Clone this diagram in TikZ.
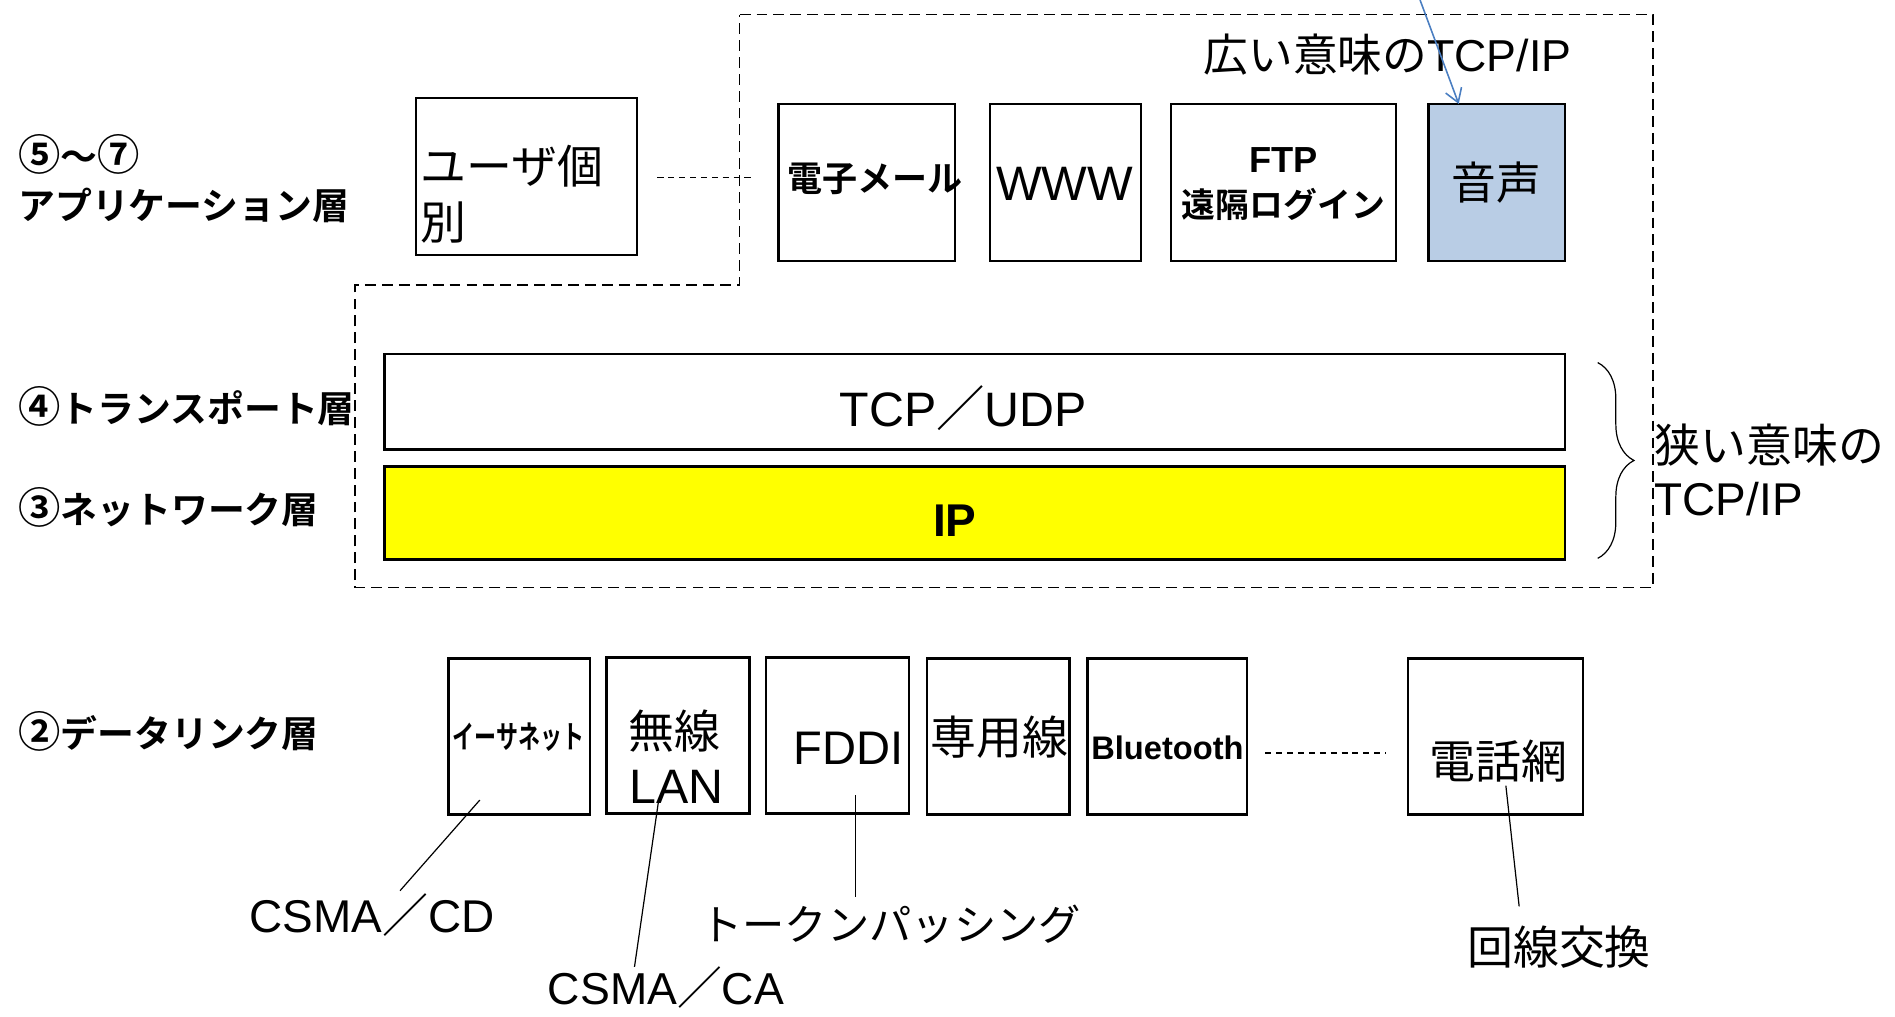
\documentclass[tikz,border=0pt]{standalone}
\usepackage{fontspec}
\usepackage{graphicx}
\setmainfont{Noto Sans CJK JP}[BoldFont={Noto Sans CJK JP Bold}]
\newfontfamily\lat{Liberation Sans}
\usetikzlibrary{arrows.meta,decorations.pathreplacing}
\definecolor{voiceblue}{RGB}{185,205,229}
\definecolor{arrowblue}{RGB}{74,126,193}
\definecolor{ipyellow}{RGB}{255,255,0}
\newcommand{\fs}[1]{\fontsize{#1}{#1}\selectfont}
\newcommand{\cnum}[1]{{\fs{35}#1}}
\begin{document}
\begin{tikzpicture}[x=1pt,y=-1pt,
  box/.style={draw=black, line width=2pt, fill=white, inner sep=0pt},
  txt/.style={inner sep=0pt, anchor=center},
  layer/.style={inner sep=0pt, anchor=west, font=\bfseries\fs{30.5}},
  outline/.style={draw=black, line width=1.4pt, dash pattern=on 9pt off 5pt},
  shortdash/.style={draw=black, line width=1.3pt, dash pattern=on 5pt off 4pt},
  pointer/.style={draw=black, line width=1pt}
]
\useasboundingbox (0,0) rectangle (1568,841);

% layer labels
\node[layer] (l57a) at (15,128) {\cnum{⑤}～\cnum{⑦}};
\node[layer] (l57b) at (15,170) {アプリケーション層};
\node[layer] (l4) at (15,336) {\cnum{④}トランスポート層};
\node[layer] (l3) at (15,420) {\cnum{③}ネットワーク層};
\node[layer] (l2) at (15,605) {\cnum{②}データリンク層};

% dashed outline of broad TCP/IP
\draw[outline] (612,12) -- (1368,12) -- (1368,486) -- (294,486) -- (294,236) -- (612,236) -- cycle;

% application layer
\node[box, minimum width=183pt, minimum height=130pt] (user) at (435.5,146) {};
\node[txt, anchor=north west, align=left, font=\fs{38}] (usertxt) at (348,120) {ユーザ個\\[8pt]別};
\node[box, minimum width=146pt, minimum height=130pt] (mail) at (717,151) {};
\node[txt, font=\bfseries\fs{29}] (mailtxt) at (724,148) {電子メール};
\node[box, minimum width=125pt, minimum height=130pt] (www) at (881.5,151) {};
\node[txt, font=\lat\fs{40}] (wwwtxt) at (881,152) {WWW};
\node[box, minimum width=186pt, minimum height=130pt] (ftp) at (1062,151) {};
\node[txt, font=\lat\bfseries\fs{30}] (ftptxt) at (1062,132) {FTP};
\node[txt, font=\bfseries\fs{28}] (rlogintxt) at (1062,169) {遠隔ログイン};
\node[box, fill=voiceblue, minimum width=113pt, minimum height=130pt] (voice) at (1238.5,151) {};
\node[txt, font=\fs{37}] (voicetxt) at (1238,151) {音声};
\node[txt, font=\fs{37}] (broad) at (1148,45) {広い意味の{\lat TCP/IP}};

\draw[shortdash, shorten <=16pt, shorten >=22pt] (user.east |- 0,147) -- (mail.west |- 0,147);

\coordinate (arrowtop) at (1175,0);
\coordinate (voicetop) at (1207,86);
\draw[arrowblue, line width=1.3pt, -{Straight Barb[length=11pt,width=14pt]}] (arrowtop) -- (voicetop);

% transport / network
\node[box, minimum width=977pt, minimum height=79pt] (tcp) at (806.5,332.5) {};
\node[txt, font=\fs{40}] (tcptxt) at (797,338) {{\lat TCP}／{\lat UDP}};
\node[box, fill=ipyellow, minimum width=977pt, minimum height=77pt] (ip) at (806.5,424.5) {};
\node[txt, font=\lat\bfseries\fs{38}] (iptxt) at (790,431) {IP};

\coordinate (bracetop) at (1322,300);
\coordinate (bracebot) at (1322,462);
\draw[line width=1pt, decorate, decoration={brace, amplitude=30pt, aspect=0.5}] (bracetop) -- (bracebot);
\node[txt, anchor=west, align=left, font=\fs{38}] (narrow) at (1369,389) {狭い意味の\\[6pt]{\lat TCP/IP}};

% data link layer
\node[box, minimum width=117pt, minimum height=129pt] (eth) at (429.5,609.5) {};
\node[txt, font=\bfseries\fs{26}] (ethtxt) at (429,610) {\scalebox{0.7}[1]{イーサネット}};
\node[box, minimum width=118pt, minimum height=129pt] (wlan) at (561,608.5) {};
\node[txt, font=\fs{38}] (wlantxt1) at (558,605) {無線};
\node[txt, font=\lat\fs{40}] (wlantxt2) at (560,651) {LAN};
\node[box, minimum width=118pt, minimum height=129pt] (fddi) at (693,608.5) {};
\node[txt, font=\lat\fs{39}] (fdditxt) at (702,619) {FDDI};
\node[box, minimum width=118pt, minimum height=129pt] (senyo) at (826,609.5) {};
\node[txt, font=\fs{38}] (senyotxt) at (827,610) {専用線};
\node[box, minimum width=132pt, minimum height=129pt] (bt) at (966,609.5) {};
\node[txt, font=\lat\bfseries\fs{27}] (bttxt) at (966,619) {Bluetooth};
\node[box, minimum width=145pt, minimum height=129pt] (tel) at (1237.5,609.5) {};
\node[txt, font=\fs{38}] (teltxt) at (1240,630) {電話網};

\draw[shortdash, shorten <=14pt, shorten >=17pt] (bt.east |- 0,623) -- (tel.west |- 0,623);

% annotations
\node[txt, font=\fs{38}] (cd) at (308,757) {{\lat CSMA}／{\lat CD}};
\node[txt, font=\fs{37}] (ca) at (551,817) {{\lat CSMA}／{\lat CA}};
\node[txt, font=\fs{35}] (token) at (737,765) {トークンパッシング};
\node[txt, font=\fs{38}] (circuit) at (1290,784) {回線交換};

\coordinate (ethpt) at (397,662);
\coordinate (cdpt) at (331,737);
\coordinate (wlanpt) at (545,662);
\coordinate (capt) at (525,800);
\coordinate (fddipt) at (708,658);
\coordinate (tokenpt) at (708,742);
\coordinate (telpt) at (1246,650);
\coordinate (circpt) at (1257,750);
\draw[pointer] (ethpt) -- (cdpt);
\draw[pointer] (wlanpt) -- (capt);
\draw[pointer] (fddipt) -- (tokenpt);
\draw[pointer] (telpt) -- (circpt);
\end{tikzpicture}
\end{document}
